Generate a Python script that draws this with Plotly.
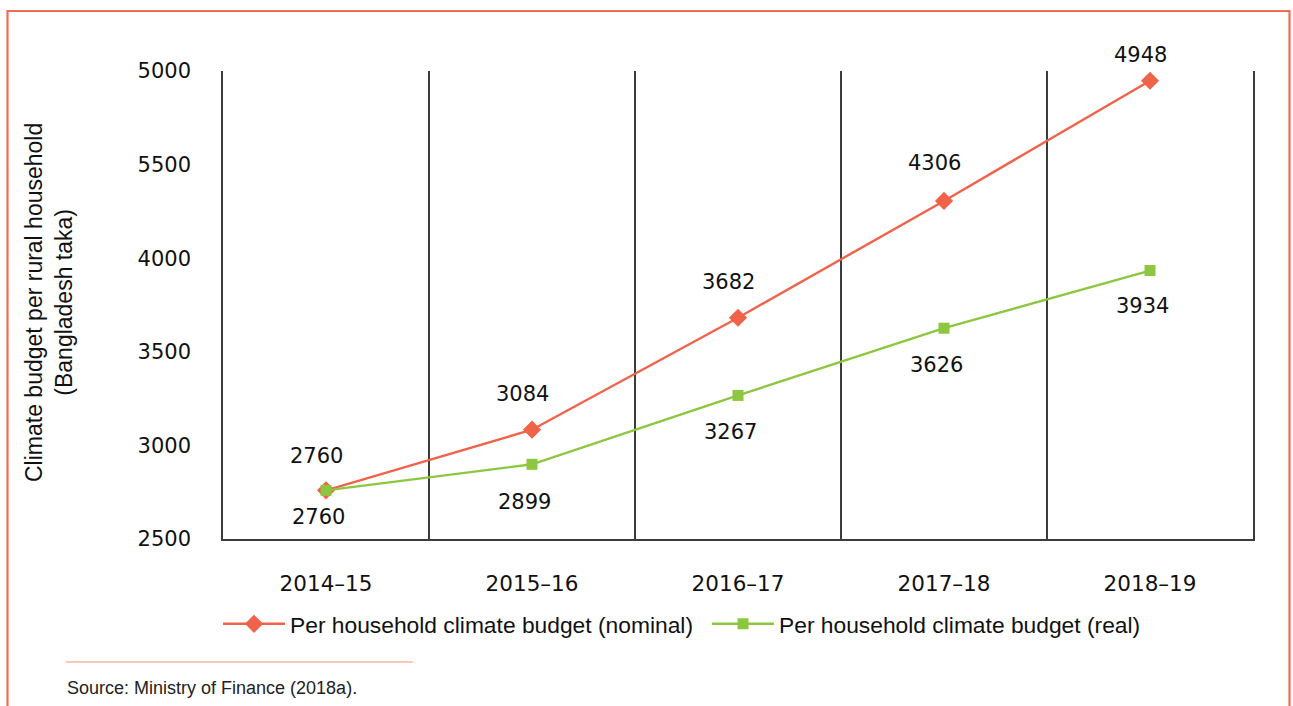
import plotly.graph_objects as go

categories = ["2014–15", "2015–16", "2016–17", "2017–18", "2018–19"]
nominal = [2760, 3084, 3682, 4306, 4948]
real = [2760, 2899, 3267, 3626, 3934]
ytick_vals = [2500, 3000, 3500, 4000, 4500, 5000]
ytick_text = ["2500", "3000", "3500", "4000", "5500", "5000"]

OFF = 0  # body margin removed below
W, H = 1293, 706
# plot area in screenshot px: x 223..1253, y 71..539
L = 223 - OFF
T = 71 - OFF
R = W - (1253 - OFF)
B = H - (539 - OFF)
pw, ph = W - L - R, H - T - B

def px_x(p):
    return (p - OFF - L) / pw

def px_y(p):
    return (H - B - (p - OFF)) / ph

RED = "#F0624A"
GREEN = "#8DC63F"
GRID = "#3c3c3c"
FONT = "Liberation Sans, Arial, sans-serif"
NUMFONT = "DejaVu Sans, Liberation Sans, sans-serif"

xs = list(range(len(categories)))

fig = go.Figure()
fig.add_trace(go.Scatter(
    x=xs, y=nominal, mode="lines+markers",
    name="Per household climate budget (nominal)",
    line=dict(color=RED, width=2.4),
    marker=dict(symbol="diamond", size=14, color=RED),
    legend="legend",
))
fig.add_trace(go.Scatter(
    x=xs, y=real, mode="lines+markers",
    name="Per household climate budget (real)",
    line=dict(color=GREEN, width=2.4),
    marker=dict(symbol="square", size=11, color=GREEN),
    legend="legend2",
))

nom_shift = [34, 36, 36, 38, 26]
real_shift = [-27, -38, -37, -37, -35]
for i, v in enumerate(nominal):
    fig.add_annotation(x=xs[i], y=v, text=str(v), showarrow=False,
                       xshift=-10, yshift=nom_shift[i],
                       font=dict(family=NUMFONT, size=21, color="#111"))
for i, v in enumerate(real):
    fig.add_annotation(x=xs[i], y=v, text=str(v), showarrow=False,
                       xshift=-8, yshift=real_shift[i],
                       font=dict(family=NUMFONT, size=21, color="#111"))

# y-axis title
fig.add_annotation(xref="paper", yref="paper", x=px_x(49), y=px_y(303),
                   xanchor="center", yanchor="middle",
                   text="Climate budget per rural household<br>(Bangladesh taka)",
                   textangle=-90, showarrow=False,
                   font=dict(family=FONT, size=23, color="#111"))
# source
fig.add_annotation(xref="paper", yref="paper", x=px_x(65), y=px_y(688),
                   xanchor="left", yanchor="middle",
                   text="Source: Ministry of Finance (2018a).", showarrow=False,
                   font=dict(family="Liberation Sans Narrow, Liberation Sans, sans-serif",
                             size=18, color="#222"))

shapes = [
    dict(type="rect", xref="paper", yref="paper",
         x0=px_x(7.5), x1=px_x(1289.5), y0=px_y(760), y1=px_y(11),
         line=dict(color="#F26B55", width=2.2), fillcolor="rgba(0,0,0,0)", layer="above"),
    dict(type="line", xref="paper", yref="paper",
         x0=px_x(66), x1=px_x(413), y0=px_y(662), y1=px_y(662),
         line=dict(color="#F5907C", width=1.2)),
]

legend_common = dict(orientation="h", xanchor="left", yanchor="middle",
                     font=dict(family=FONT, size=22.8, color="#111"),
                     itemwidth=62, bgcolor="rgba(0,0,0,0)")

fig.update_layout(
    width=W, height=H,
    margin=dict(l=L, r=R, t=T, b=B),
    paper_bgcolor="white", plot_bgcolor="white",
    font=dict(family=FONT, size=19, color="#111"),
    showlegend=True,
    legend=dict(x=px_x(218), y=px_y(624), **legend_common),
    legend2=dict(x=px_x(707), y=px_y(624), **legend_common),
    shapes=shapes,
    xaxis=dict(
        range=[-0.5, len(categories) - 0.5],
        tickmode="array", tickvals=xs, ticktext=categories,
        showgrid=False, zeroline=False,
        showline=True, linecolor=GRID, linewidth=1.6,
        ticks="", ticklabelstandoff=24,
        tickfont=dict(family=NUMFONT, size=21.5, color="#111"),
        minor=dict(tickmode="array",
                   tickvals=[i - 0.5 for i in range(1, len(categories))],
                   showgrid=True, gridcolor=GRID, gridwidth=1.6, ticks=""),
        fixedrange=True,
    ),
    yaxis=dict(
        range=[2500, 5000],
        tickmode="array", tickvals=ytick_vals, ticktext=ytick_text,
        showgrid=False, zeroline=False,
        showline=True, mirror=True, linecolor=GRID, linewidth=1.6,
        ticks="", ticklabelstandoff=26,
        tickfont=dict(family=NUMFONT, size=21, color="#111"),
        fixedrange=True,
    ),
)

fig.write_html(
    "out.html",
    config={"displayModeBar": False},
    post_script="document.body.style.margin='0';document.body.style.overflow='hidden';",
)
